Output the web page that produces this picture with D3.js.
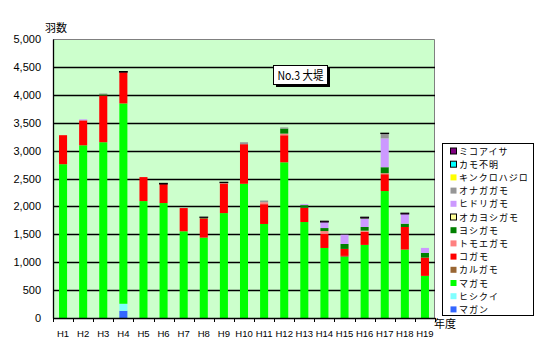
<!DOCTYPE html>
<html><head><meta charset="utf-8">
<script src="https://cdn.jsdelivr.net/npm/d3@7"></script>
<style>body{margin:0;background:#fff}svg{display:block}</style>
</head><body>
<svg id="c" width="545" height="360"></svg>
<script>
const categories = ["H1","H2","H3","H4","H5","H6","H7","H8","H9","H10","H11","H12","H13","H14","H15","H16","H17","H18","H19"];
const yTicks = [0,500,1000,1500,2000,2500,3000,3500,4000,4500,5000];
// series, bottom to top of each stack
const magan        = [0,0,0,130,0,0,0,0,0,0,0,0,0,0,0,0,0,0,0];
const hishikui     = [0,0,0,125,0,0,0,0,0,0,0,0,0,0,0,0,0,0,0];
const magamo       = [2756,3095,3150,3590,2095,2060,1554,1440,1880,2405,1685,2790,1720,1255,1095,1310,2275,1226,755];
const karugamo     = [0,0,0,0,0,0,0,0,0,0,0,0,0,0,18,0,0,0,0];
const kogamo       = [520,447,838,560,430,340,416,345,525,710,355,485,255,255,125,237,302,405,328];
const tomoegamo    = [0,0,0,0,0,0,0,0,18,0,35,30,0,48,0,18,18,0,0];
const yoshigamo    = [0,0,20,0,0,0,0,15,0,0,0,90,48,54,89,66,107,59,83];
const okayoshigamo = [0,0,0,0,0,0,0,0,0,0,0,0,0,0,0,0,0,0,0];
const hidorigamo   = [0,18,0,0,0,0,0,0,0,0,0,0,18,107,166,148,518,173,90];
const onagagamo    = [0,0,15,0,0,0,0,0,0,35,30,20,0,0,0,12,84,0,0];
const kinkurohajiro= [0,0,0,0,0,0,0,0,0,0,0,0,0,0,0,0,0,0,0];
const kamofumei    = [0,0,0,0,0,0,0,0,0,0,0,0,0,0,0,0,0,0,0];
const mikoaisa     = [0,0,0,12,0,15,0,10,12,0,0,0,0,18,0,18,10,18,0];

const series = [
  {name:"マガン", values:magan, color:"#3366FF", border:false},
  {name:"ヒシクイ", values:hishikui, color:"#80FFFF", border:false},
  {name:"マガモ", values:magamo, color:"#00FF00", border:false},
  {name:"カルガモ", values:karugamo, color:"#996633", border:false},
  {name:"コガモ", values:kogamo, color:"#FF0000", border:false},
  {name:"トモエガモ", values:tomoegamo, color:"#FF8080", border:false},
  {name:"ヨシガモ", values:yoshigamo, color:"#008000", border:false},
  {name:"オカヨシガモ", values:okayoshigamo, color:"#FFFF99", border:true},
  {name:"ヒドリガモ", values:hidorigamo, color:"#CC99FF", border:false},
  {name:"オナガガモ", values:onagagamo, color:"#969696", border:false},
  {name:"キンクロハジロ", values:kinkurohajiro, color:"#FFFF00", border:false},
  {name:"カモ不明", values:kamofumei, color:"#00FFFF", border:true},
  {name:"ミコアイサ", values:mikoaisa, color:"#800080", border:true}
];

const svg = d3.select("#c");
const L = 53, R = 435, T = 39, B = 318;
const x = d3.scaleBand().domain(categories).range([L, R]).paddingInner(0.6).paddingOuter(0.3);
const y = d3.scaleLinear().domain([0, 5000]).range([B, T]);

svg.append("rect").attr("x", L).attr("y", T).attr("width", R - L).attr("height", B - T).attr("fill", "#CCFFCC");
svg.append("path").attr("d", `M${L},${T+0.5}H${R-0.5}V${B}`).attr("fill","none").attr("stroke","#808080").attr("stroke-width",1);

// gridlines
svg.append("g").selectAll("line").data(yTicks.filter(v => v > 0 && v < 5000)).join("line")
  .attr("x1", L).attr("x2", R).attr("y1", d => Math.round(y(d)) + 0.5).attr("y2", d => Math.round(y(d)) + 0.5)
  .attr("stroke", "#000").attr("stroke-width", 1.3);

// stacks
const table = categories.map((c, i) => { const o = {cat: c}; series.forEach((s, k) => o["s" + k] = s.values[i]); return o; });
const stack = d3.stack().keys(series.map((s, k) => "s" + k))(table);
stack.forEach((layer, k) => {
  const s = series[k];
  svg.append("g").selectAll("rect").data(layer.filter(d => d[1] - d[0] > 0)).join("rect")
    .attr("x", d => x(d.data.cat)).attr("width", x.bandwidth())
    .attr("y", d => y(d[1])).attr("height", d => y(d[0]) - y(d[1]))
    .attr("fill", s.color)
    .attr("stroke", s.border ? "#000" : "none").attr("stroke-width", s.border ? 0.8 : 0);
});

// axes
const yAxis = d3.axisLeft(y).tickValues(yTicks).tickSize(0).tickPadding(12).tickFormat(d3.format(","));
const gy = svg.append("g").attr("transform", `translate(${L},0)`).call(yAxis);
gy.select(".domain").attr("stroke", "#000").attr("stroke-width", 1.3);
gy.selectAll("text").attr("font-family", "Liberation Sans, Arial, sans-serif").attr("font-size", 11).attr("fill", "#000");

const xAxis = d3.axisBottom(x).tickSize(0).tickPadding(12);
const gx = svg.append("g").attr("transform", `translate(0,${B})`).call(xAxis);
gx.select(".domain").attr("stroke", "#000").attr("stroke-width", 1.3);
gx.selectAll("text").attr("font-family", "Liberation Sans, Arial, sans-serif").attr("font-size", 9.5).attr("fill", "#000");
svg.append("g").selectAll("line").data(d3.range(categories.length + 1)).join("line")
  .attr("x1", i => Math.round(L + i * (R - L) / categories.length) + 0.5)
  .attr("x2", i => Math.round(L + i * (R - L) / categories.length) + 0.5)
  .attr("y1", B).attr("y2", B + 4).attr("stroke", "#000");

const jp = "'Noto Sans CJK JP', sans-serif";
svg.append("text").attr("x", 45).attr("y", 32).attr("font-family", jp).attr("font-size", 11).text("羽数");
svg.append("text").attr("x", 434).attr("y", 328).attr("font-family", jp).attr("font-size", 11).text("年度");

// title box
svg.append("rect").attr("x", 276).attr("y", 68).attr("width", 54).attr("height", 19).attr("fill", "#000");
svg.append("rect").attr("x", 273.5).attr("y", 65.5).attr("width", 54).attr("height", 19).attr("fill", "#fff").attr("stroke", "#000");
svg.append("text").attr("x", 300.5).attr("y", 79.5).attr("text-anchor", "middle").attr("font-family", jp).attr("font-size", 12)
  .attr("textLength", 46).attr("lengthAdjust", "spacingAndGlyphs").text("No.3 大堤");

// legend
const lg = svg.append("g");
lg.append("rect").attr("x", 442.5).attr("y", 143.5).attr("width", 91).attr("height", 172).attr("fill", "#fff").attr("stroke", "#000");
const items = series.slice().reverse();
const li = lg.selectAll("g.it").data(items).join("g").attr("class", "it")
  .attr("transform", (d, i) => `translate(450,${151 + i * 13.2})`);
li.append("rect").attr("x", 0.5).attr("y", -3).attr("width", 6).attr("height", 6)
  .attr("fill", d => d.color).attr("stroke", d => d.border ? "#000" : "none");
li.append("text").attr("x", 9).attr("y", 3.5).attr("font-family", jp).attr("font-size", 9).attr("letter-spacing", 1).text(d => d.name);
</script>
</body></html>
